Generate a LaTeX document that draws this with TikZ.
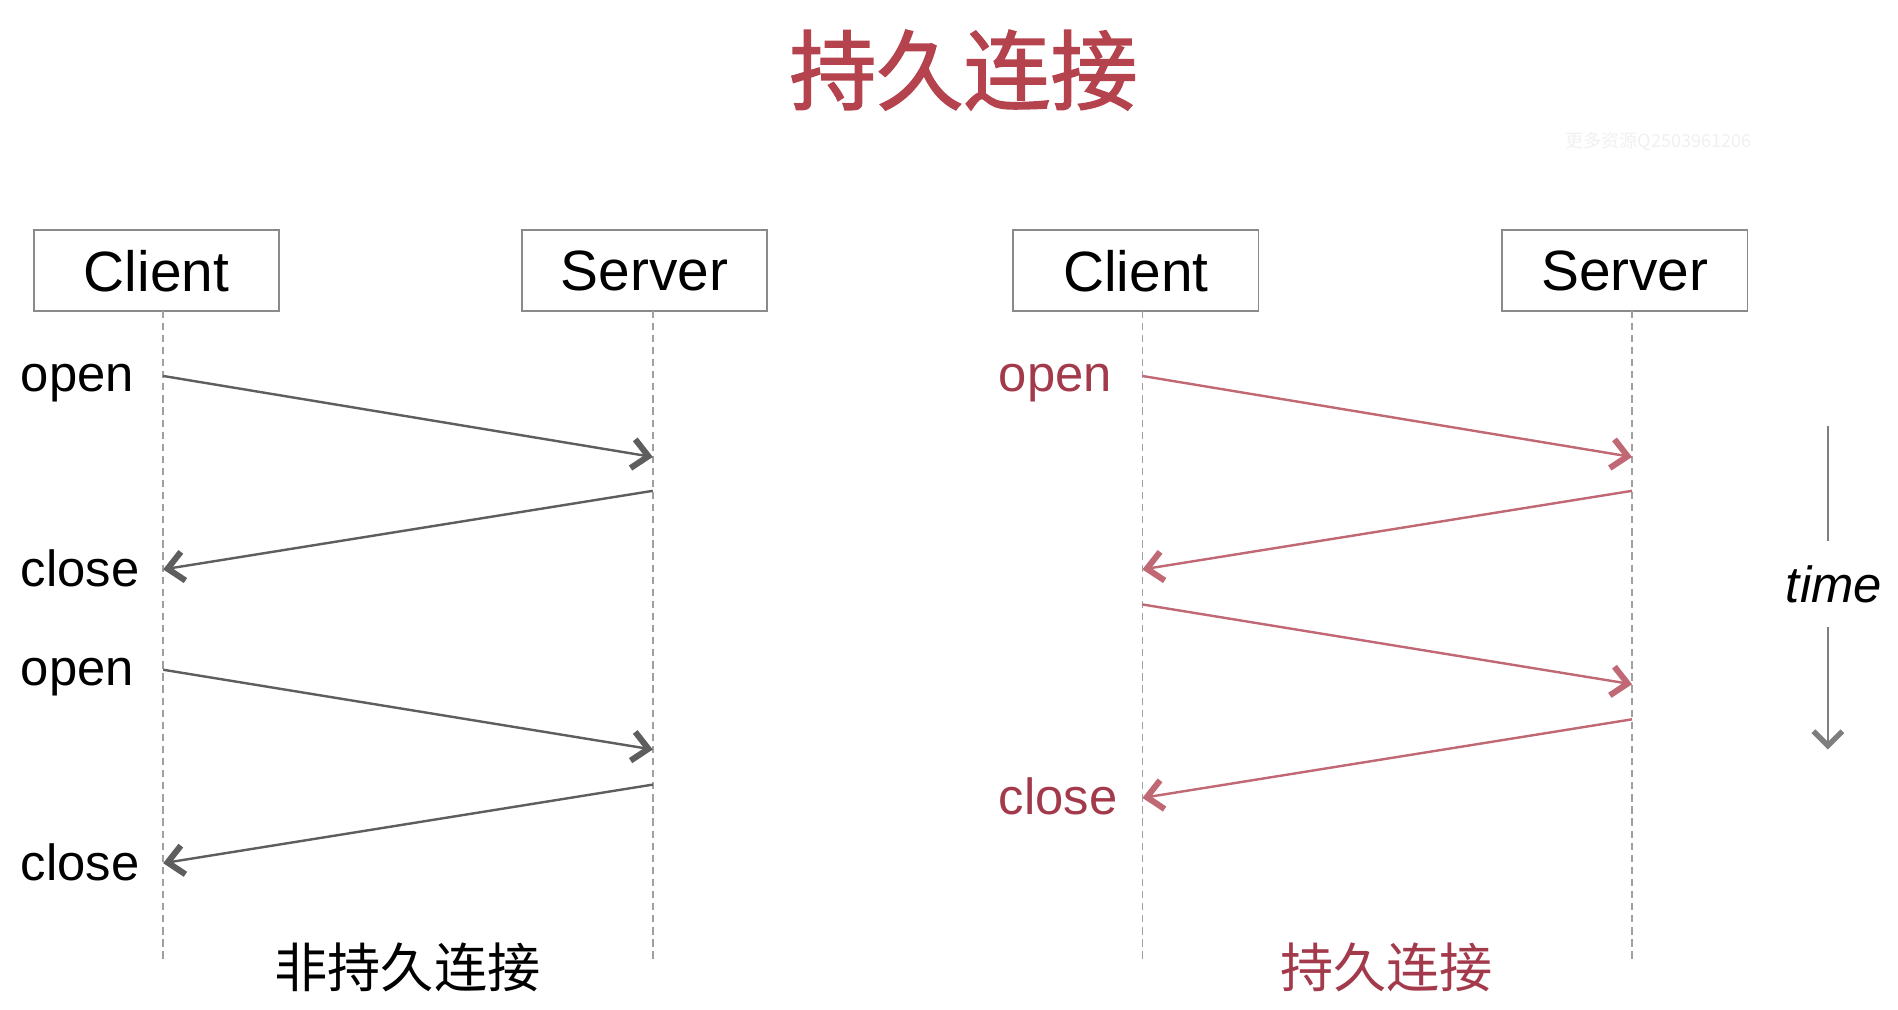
\documentclass[tikz,border=0pt]{standalone}
\usepackage{fontspec}
\setmainfont{Liberation Sans}
\newfontfamily\cjk{Noto Sans CJK SC}
\newfontfamily\cjktitle{Noto Sans CJK SC}[FakeBold=1.6]
\usetikzlibrary{positioning, arrows.meta}

\definecolor{titlered}{HTML}{B5434E}
\definecolor{labelred}{HTML}{A33A4B}
\definecolor{arrowred}{HTML}{C06874}
\definecolor{arrowgray}{HTML}{5E5E5E}
\definecolor{boxgray}{HTML}{8A8A8A}
\definecolor{lifegray}{HTML}{A0A0A0}

\begin{document}
\begin{tikzpicture}[x=1pt, y=-1pt,
    actor/.style={rectangle, draw=boxgray, line width=1.5pt, minimum width=203pt,
                  minimum height=67pt, inner sep=0pt, font=\fontsize{47}{50}\selectfont},
    life/.style={draw=lifegray, line width=1.2pt, dash pattern=on 6pt off 4pt},
    msg/.style={-{Straight Barb[length=13pt, width=24pt, line width=5pt 0]}, line width=2pt},
    lbl/.style={anchor=base west, inner sep=0pt, font=\fontsize{42}{46}\selectfont},
    caption/.style={inner sep=0pt, font=\cjk\fontsize{44}{48}\selectfont}
]
    \useasboundingbox (0,0) rectangle (1570,835);

    % Title
    \node[font=\cjktitle\fontsize{72}{76}\selectfont, text=titlered] (title) at (797,58) {持久连接};
    \node[font=\cjk\fontsize{15}{17}\selectfont, text=black!6] (mark) at (1372,117) {更多资源Q2503961206};

    % Non-persistent
    \node[actor] (clientA) at (129.5,224) {Client};
    \node[actor] (serverA) at (533,224) {Server};
    \coordinate (clA) at (135,257);
    \coordinate (slA) at (540,257);
    \draw[life] (clA) -- (135,795) coordinate (clAend);
    \draw[life] (slA) -- (540,795) coordinate (slAend);

    \coordinate (a1) at (135,311); \coordinate (a2) at (540,378);
    \coordinate (a3) at (540,406); \coordinate (a4) at (135,471);
    \coordinate (a5) at (135,554); \coordinate (a6) at (540,620);
    \coordinate (a7) at (540,649); \coordinate (a8) at (135,714);
    \draw[msg, arrowgray] (a1) -- (a2);
    \draw[msg, arrowgray] (a3) -- (a4);
    \draw[msg, arrowgray] (a5) -- (a6);
    \draw[msg, arrowgray] (a7) -- (a8);

    \node[lbl] (openA1) at (17,324) {open};
    \node[lbl] (closeA1) at (17,485) {close};
    \node[lbl] (openA2) at (17,567) {open};
    \node[lbl] (closeA2) at (17,728) {close};
    \node[caption] (capA) at (337,800) {非持久连接};

    % Persistent
    \node[actor] (clientB) at (939.5,224) {Client};
    \node[actor] (serverB) at (1344,224) {Server};
    \coordinate (clB) at (945,257);
    \coordinate (slB) at (1350,257);
    \draw[life] (clB) -- (945,795) coordinate (clBend);
    \draw[life] (slB) -- (1350,795) coordinate (slBend);

    \coordinate (b1) at (945,311); \coordinate (b2) at (1350,378);
    \coordinate (b3) at (1350,406); \coordinate (b4) at (945,471);
    \coordinate (b5) at (945,500); \coordinate (b6) at (1350,566);
    \coordinate (b7) at (1350,595); \coordinate (b8) at (945,660);
    \draw[msg, arrowred] (b1) -- (b2);
    \draw[msg, arrowred] (b3) -- (b4);
    \draw[msg, arrowred] (b5) -- (b6);
    \draw[msg, arrowred] (b7) -- (b8);

    \node[lbl, text=labelred] (openB) at (826,324) {open};
    \node[lbl, text=labelred] (closeB) at (826,674) {close};
    \node[caption, text=labelred] (capB) at (1147,800) {持久连接};

    % Time axis
    \node[anchor=base, inner xsep=0pt, inner ysep=20pt, font=\itshape\fontsize{42}{46}\selectfont] (time) at (1517,498) {time};
    \coordinate (tstart) at (1512,352);
    \coordinate (tend) at (1512,620);
    \draw[arrowgray!80, line width=1.5pt] (tstart) -- (tstart |- time.north);
    \draw[arrowgray!80, line width=1.5pt, -{Straight Barb[length=12pt, width=24pt, line width=4.5pt 0]}] (tend |- time.south) -- (tend);

\end{tikzpicture}
\end{document}
